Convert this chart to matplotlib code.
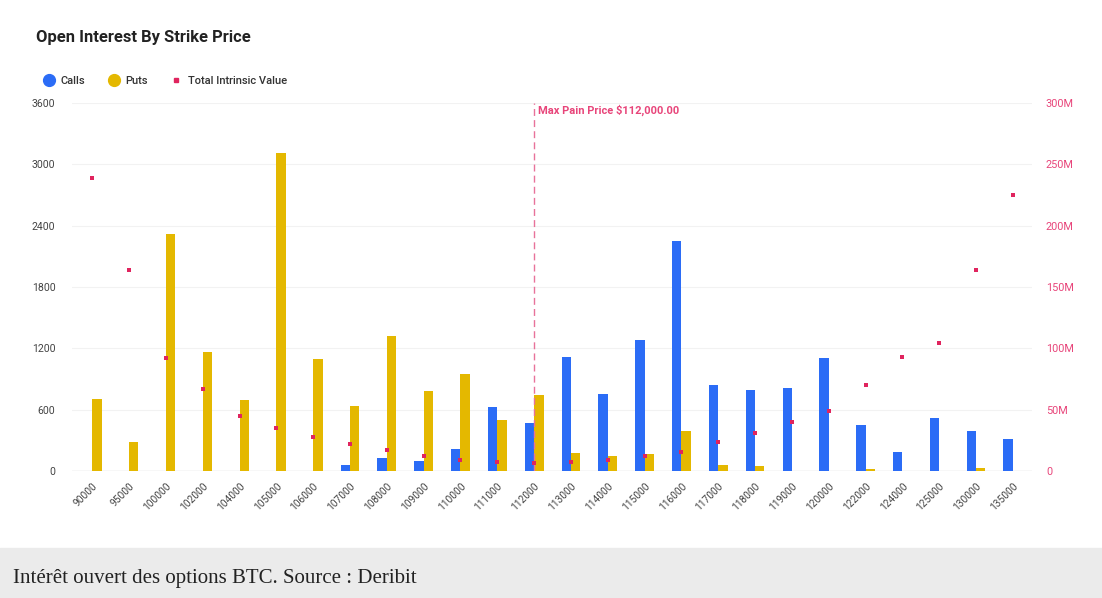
"""Open interest by strike price (BTC options, Deribit)."""
import numpy as np
import matplotlib.pyplot as plt
from matplotlib.lines import Line2D

plt.rcParams['font.family'] = ['Roboto', 'DejaVu Sans']

strikes = ["90000", "95000", "100000", "102000", "104000", "105000", "106000",
           "107000", "108000", "109000", "110000", "111000", "112000", "113000",
           "114000", "115000", "116000", "117000", "118000", "119000", "120000",
           "122000", "124000", "125000", "130000", "135000"]
calls = [0, 0, 0, 0, 0, 0, 0, 55, 127, 101, 218, 623, 473, 1118,
         756, 1285, 2253, 838, 795, 815, 1102, 453, 189, 515, 388, 310]
puts = [704, 280, 2315, 1164, 694, 3111, 1092, 639, 1320, 786, 949, 499, 743, 179,
        143, 170, 388, 62, 52, 0, 0, 20, 0, 0, 29, 0]
intrinsic_m = [239, 164, 92, 67, 45, 35, 28, 22, 17, 12, 9.2, 7.6, 6.8, 7.6,
               9, 12, 15.8, 23.4, 31, 40, 48.9, 70, 92.7, 104, 163.6, 224.7]
max_pain_strike = "112000"

C_CALLS = "#2B6CF6"
C_PUTS = "#E4B800"
C_DOTS = "#E0245E"
C_PINK = "#E8457A"

fig = plt.figure(figsize=(11.02, 5.98), dpi=100)
ax = fig.add_axes([0.0653, 0.2124, 0.8712, 0.6154])
ax2 = ax.twinx()

x = np.arange(len(strikes))
w = 0.255
ax.bar(x - w / 2, calls, w, color=C_CALLS, zorder=3)
ax.bar(x + w / 2, puts, w, color=C_PUTS, zorder=3)
ax2.scatter(x, np.array(intrinsic_m) * 1e6, marker='s', s=12, color=C_DOTS,
            zorder=4, linewidths=0)

ax.set_xlim(-0.55, len(strikes) - 0.48)
ax.set_ylim(0, 3600)
ax.set_yticks(np.arange(0, 3601, 600))
ax2.set_ylim(0, 300e6)
ax2.set_yticks(np.arange(0, 301e6, 50e6))
ax2.set_yticklabels(["0"] + [f"{v}M" for v in range(50, 301, 50)])

ax.grid(axis='y', color='#F2F2F2', linewidth=0.8, zorder=0)
ax.axhline(0, color='#CCCCCC', linewidth=0.9, zorder=2)
for a in (ax, ax2):
    for s in a.spines.values():
        s.set_visible(False)
    a.tick_params(length=0)

ax.set_xticks(x)
ax.set_xticklabels(strikes, rotation=45, ha='right', rotation_mode='anchor',
                   fontsize=7.3, color='#444444')
ax.tick_params(axis='x', pad=7)
ax.tick_params(axis='y', labelsize=7.6, colors='#444444', pad=12)
ax2.tick_params(axis='y', labelsize=7.8, colors=C_PINK, pad=10)

mp = strikes.index(max_pain_strike)
ax.axvline(mp, color='#E8729A', linestyle=(0, (5, 3)), linewidth=1.0, zorder=5)
ax.text(mp + 0.1, 3600 - 70, "Max Pain Price \\$112,000.00", color=C_PINK,
        fontsize=8, fontweight='bold', va='center', ha='left')

fig.text(0.0327, 0.938, "Open Interest By Strike Price", fontsize=11.9,
         fontweight='bold', color='#222222', va='center')

handles = [
    Line2D([], [], marker='o', linestyle='', markersize=8.5, color=C_CALLS),
    Line2D([], [], marker='o', linestyle='', markersize=8.5, color=C_PUTS),
    Line2D([], [], marker='s', linestyle='', markersize=3.2, color=C_DOTS),
]
leg = fig.legend(handles, ["Calls", "Puts", "Total Intrinsic Value"],
                 loc='center left', bbox_to_anchor=(0.031, 0.865), ncol=3,
                 frameon=False, fontsize=8, handlelength=0.9, handletextpad=0.6,
                 columnspacing=2.1)
for t in leg.get_texts():
    t.set_fontweight('medium')
    t.set_color('#333333')

# caption band
fig.patches.append(plt.Rectangle((0, 0), 1, 50 / 598, transform=fig.transFigure,
                                 color='#EBEBEB', zorder=0))
fig.text(13 / 1102, 20 / 598, "Intérêt ouvert des options BTC. Source : Deribit",
         family=['Liberation Serif', 'DejaVu Serif'], fontsize=15,
         color='#222222', va='center')

fig.savefig("out.png", dpi=100)
